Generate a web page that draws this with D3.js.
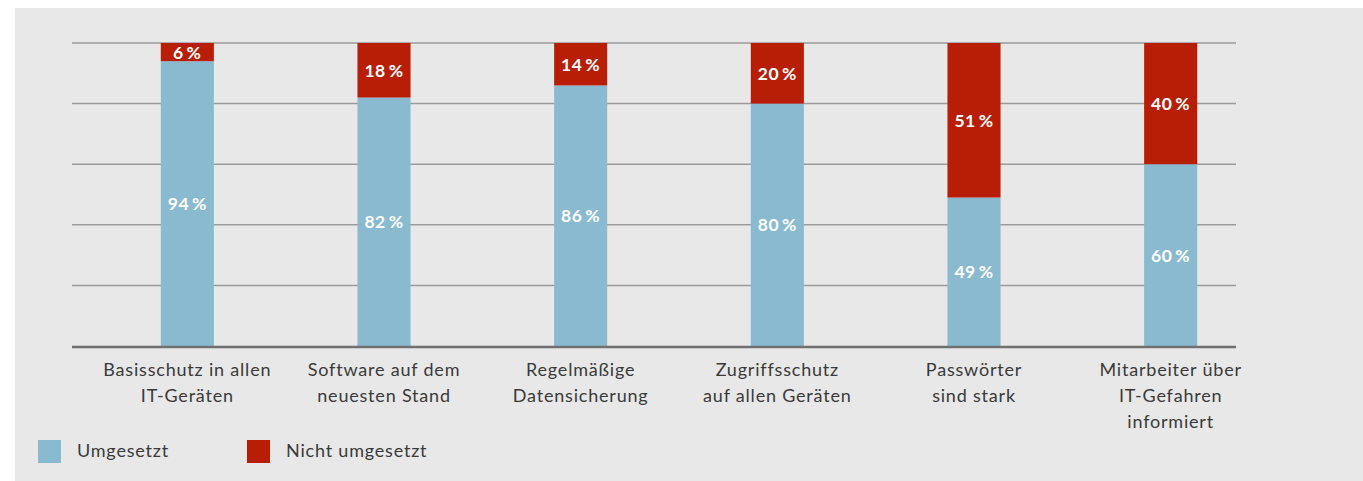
<!DOCTYPE html>
<html>
<head>
<meta charset="utf-8">
<script src="https://cdn.jsdelivr.net/npm/d3@7"></script>
<style>
  html, body { margin: 0; padding: 0; background: #ffffff; }
  svg { display: block; }
</style>
</head>
<body>
<svg id="chart" width="1363" height="481"></svg>
<script>
const categories = [
  "Basisschutz in allen IT-Geräten",
  "Software auf dem neuesten Stand",
  "Regelmäßige Datensicherung",
  "Zugriffsschutz auf allen Geräten",
  "Passwörter sind stark",
  "Mitarbeiter über IT-Gefahren informiert"
];
const categoryLines = [
  ["Basisschutz in allen", "IT-Geräten"],
  ["Software auf dem", "neuesten Stand"],
  ["Regelmäßige", "Datensicherung"],
  ["Zugriffsschutz", "auf allen Geräten"],
  ["Passwörter", "sind stark"],
  ["Mitarbeiter über", "IT-Gefahren", "informiert"]
];
const umgesetzt = [94, 82, 86, 80, 49, 60];
const nichtUmgesetzt = [6, 18, 14, 20, 51, 40];
const seriesNames = ["Umgesetzt", "Nicht umgesetzt"];
const seriesColors = ["#8abad0", "#b81e06"];
const yTicks = [0, 20, 40, 60, 80, 100];

const FONT = "Lato, 'Open Sans', sans-serif";
const svg = d3.select("#chart");

// panel background
svg.append("rect").attr("x", 15).attr("y", 8).attr("width", 1363 - 15).attr("height", 481 - 8).attr("fill", "#e8e8e8");

const x = d3.scaleBand().domain(categories).range([89, 1269]).paddingInner(0.73).paddingOuter(0.365);
const y = d3.scaleLinear().domain([0, 100]).range([346, 43]);

const gridX0 = 72, gridX1 = 1236;

// gridlines
svg.append("g").selectAll("line").data(yTicks.filter(t => t > 0)).join("line")
  .attr("x1", gridX0).attr("x2", gridX1)
  .attr("y1", d => y(d)).attr("y2", d => y(d))
  .attr("stroke", "#9b9b9b").attr("stroke-width", 1.5);

const data = categories.map((c, i) => ({ cat: c, a: umgesetzt[i], b: nichtUmgesetzt[i] }));

const g = svg.append("g");
// Umgesetzt (bottom)
g.selectAll("rect.a").data(data).join("rect").attr("class", "a")
  .attr("x", d => x(d.cat)).attr("width", x.bandwidth())
  .attr("y", d => y(d.a)).attr("height", d => y(0) - y(d.a))
  .attr("fill", seriesColors[0]);
// Nicht umgesetzt (top)
g.selectAll("rect.b").data(data).join("rect").attr("class", "b")
  .attr("x", d => x(d.cat)).attr("width", x.bandwidth())
  .attr("y", d => y(d.a + d.b)).attr("height", d => y(d.a) - y(d.a + d.b))
  .attr("fill", seriesColors[1]);

// value labels
const labelStyle = sel => sel
  .attr("text-anchor", "middle").attr("dominant-baseline", "central")
  .attr("font-family", FONT).attr("font-weight", 700).attr("font-size", 17.5)
  .attr("letter-spacing", 0.6)
  .attr("fill", "#ffffff");
g.selectAll("text.a").data(data).join("text").attr("class", "a")
  .attr("x", d => x(d.cat) + x.bandwidth() / 2)
  .attr("y", d => (y(0) + y(d.a)) / 2)
  .text(d => d.a + "\u2009%").call(labelStyle);
g.selectAll("text.b").data(data).join("text").attr("class", "b")
  .attr("x", d => x(d.cat) + x.bandwidth() / 2)
  .attr("y", d => (y(d.a) + y(d.a + d.b)) / 2)
  .text(d => d.b + "\u2009%").call(labelStyle);

// axis line
svg.append("line").attr("x1", gridX0).attr("x2", gridX1)
  .attr("y1", y(0) + 1).attr("y2", y(0) + 1)
  .attr("stroke", "#707070").attr("stroke-width", 2.5);

// category labels
const catG = svg.append("g");
categories.forEach((c, i) => {
  const cx = x(c) + x.bandwidth() / 2;
  const t = catG.append("text")
    .attr("x", cx)
    .attr("y", 376)
    .attr("text-anchor", "middle")
    .attr("font-family", FONT).attr("font-size", 18)
    .attr("letter-spacing", 0.8)
    .attr("fill", "#3a3a3a");
  categoryLines[i].forEach((line, j) => {
    t.append("tspan").attr("x", cx).attr("y", 376 + j * 26).text(line);
  });
});

// legend
const legendX = [38, 247];
const leg = svg.append("g");
seriesNames.forEach((s, i) => {
  leg.append("rect").attr("x", legendX[i]).attr("y", 440).attr("width", 23).attr("height", 23).attr("fill", seriesColors[i]);
  leg.append("text").attr("x", legendX[i] + 39).attr("y", 457)
    .attr("font-family", FONT).attr("font-size", 18).attr("letter-spacing", 0.8)
    .attr("fill", "#3a3a3a").text(s);
});
</script>
</body>
</html>
